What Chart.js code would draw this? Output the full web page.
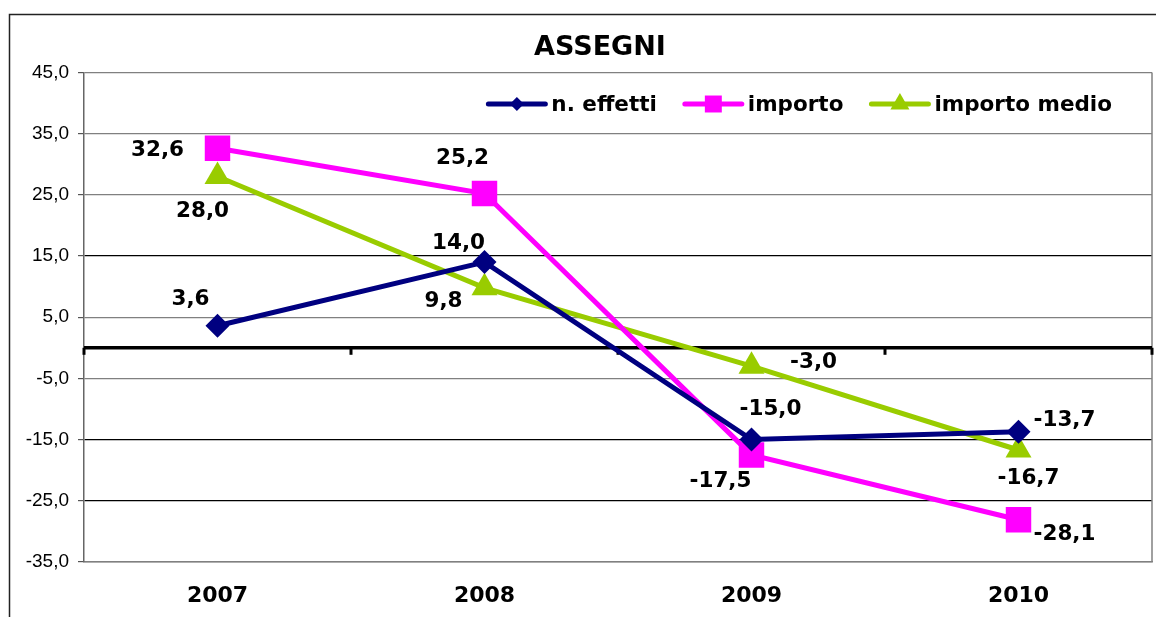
<!DOCTYPE html>
<html>
<head>
<meta charset="utf-8">
<script src="https://cdn.jsdelivr.net/npm/chart.js@4.4.0/dist/chart.umd.min.js"></script>
<style>
  html, body { margin: 0; padding: 0; background: #fff; }
  #wrap { width: 1156px; height: 617px; }
</style>
</head>
<body>
<div id="wrap"><canvas id="chart" width="1156" height="617"></canvas></div>
<script>
// data
const years = ["2007", "2008", "2009", "2010"];
const nEffetti = [3.6, 14.0, -15.0, -13.7];
const importo = [32.6, 25.2, -17.5, -28.1];
const importoMedio = [28.0, 9.8, -3.0, -16.7];
const yTicks = [45, 35, 25, 15, 5, -5, -15, -25, -35];

// where each value label sits relative to its point (dx, dy)
const labelOffsets = [
  [[-27, -26], [-26, -19], [19, -30], [46, -11]],
  [[-60, 2], [-22, -35], [-31, 27], [46, 15]],
  [[-15, 35], [-41, 14], [62, -4], [10, 28]]
];

const boldFont = "'DejaVu Sans', Verdana, sans-serif";

function fmt(v) {
  return v.toFixed(1).replace(".", ",");
}

// white page + outer frame
const framePlugin = {
  id: "frame",
  afterLayout(chart) {
    // title sits a bit right of the canvas centre
    if (chart.titleBlock) chart.titleBlock.left = 48;
  },
  beforeDraw(chart) {
    const ctx = chart.ctx;
    ctx.save();
    ctx.fillStyle = "#fff";
    ctx.fillRect(0, 0, chart.width, chart.height);
    ctx.strokeStyle = "#222";
    ctx.lineWidth = 1.5;
    ctx.strokeRect(9.5, 14.5, 2000, 2000);
    ctx.restore();
  },
  beforeDatasetsDraw(chart) {
    const ctx = chart.ctx;
    const a = chart.chartArea;
    const x = chart.scales.x;
    const y0 = chart.scales.y.getPixelForValue(0);
    ctx.save();
    // right border of the plot
    ctx.strokeStyle = "#808080";
    ctx.lineWidth = 1.5;
    ctx.beginPath();
    ctx.moveTo(a.right, a.top);
    ctx.lineTo(a.right, a.bottom);
    ctx.stroke();
    // zero line with category tick marks
    ctx.strokeStyle = "#000";
    ctx.lineWidth = 3.5;
    ctx.beginPath();
    ctx.moveTo(a.left, y0);
    ctx.lineTo(a.right, y0);
    ctx.stroke();
    const step = x.getPixelForValue(1) - x.getPixelForValue(0);
    ctx.lineWidth = 3;
    for (let i = 0; i <= years.length; i++) {
      const px = x.getPixelForValue(0) - step / 2 + i * step;
      ctx.beginPath();
      ctx.moveTo(px, y0);
      ctx.lineTo(px, y0 + 7);
      ctx.stroke();
    }
    ctx.restore();
  }
};

// value labels next to each point
const valueLabels = {
  id: "valueLabels",
  afterDatasetsDraw(chart) {
    const ctx = chart.ctx;
    ctx.save();
    ctx.font = "bold 21.5px " + boldFont;
    ctx.fillStyle = "#000";
    ctx.textAlign = "center";
    ctx.textBaseline = "middle";
    chart.data.datasets.forEach(function (ds, d) {
      const meta = chart.getDatasetMeta(d);
      meta.data.forEach(function (pt, i) {
        const off = labelOffsets[d][i];
        ctx.fillText(fmt(ds.data[i]), pt.x + off[0], pt.y + off[1]);
      });
    });
    ctx.restore();
  }
};

// legend drawn inside the plot, top right
const innerLegend = {
  id: "innerLegend",
  afterDraw(chart) {
    const ctx = chart.ctx;
    const a = chart.chartArea;
    const lineLen = 57;
    const gapText = 6;
    const gapItem = 28;
    const cy = 104;
    ctx.save();
    ctx.font = "bold 21.5px " + boldFont;
    ctx.textBaseline = "middle";
    ctx.textAlign = "left";
    const items = chart.data.datasets.map(function (ds) {
      return { ds: ds, w: ctx.measureText(ds.label).width };
    });
    let total = 0;
    items.forEach(function (it, i) {
      total += lineLen + gapText + it.w + (i < items.length - 1 ? gapItem : 0);
    });
    let x = a.right - 40 - total;
    items.forEach(function (it) {
      const ds = it.ds;
      ctx.strokeStyle = ds.borderColor;
      ctx.lineWidth = 5;
      ctx.lineCap = "round";
      ctx.beginPath();
      ctx.moveTo(x, cy);
      ctx.lineTo(x + lineLen, cy);
      ctx.stroke();
      ctx.fillStyle = ds.borderColor;
      Chart.helpers.drawPoint(ctx, {
        pointStyle: ds.pointStyle,
        radius: ds.legendRadius,
        rotation: 0,
        borderWidth: 0
      }, x + lineLen / 2, cy);
      ctx.fillStyle = "#000";
      ctx.fillText(ds.label, x + lineLen + gapText, cy + 1);
      x += lineLen + gapText + it.w + gapItem;
    });
    ctx.restore();
  }
};

const ctx = document.getElementById("chart").getContext("2d");
const chart = new Chart(ctx, {
  type: "line",
  data: {
    labels: years,
    datasets: [
      {
        label: "n. effetti",
        data: nEffetti,
        borderColor: "#000080",
        backgroundColor: "#000080",
        borderWidth: 5,
        pointStyle: "rectRot",
        pointRadius: 12,
        pointBorderWidth: 0,
        legendRadius: 7
      },
      {
        label: "importo",
        data: importo,
        borderColor: "#FF00FF",
        backgroundColor: "#FF00FF",
        borderWidth: 5,
        pointStyle: "rect",
        pointRadius: 18,
        pointBorderWidth: 0,
        legendRadius: 12
      },
      {
        label: "importo medio",
        data: importoMedio,
        borderColor: "#99CC00",
        backgroundColor: "#99CC00",
        borderWidth: 5,
        pointStyle: "triangle",
        pointRadius: 15,
        pointBorderWidth: 0,
        legendRadius: 11
      }
    ]
  },
  options: {
    responsive: false,
    animation: false,
    layout: { autoPadding: false, padding: { left: 0, right: 4, top: 0, bottom: 0 } },
    plugins: {
      legend: { display: false },
      tooltip: { enabled: false },
      title: {
        display: true,
        text: "ASSEGNI",
        color: "#000",
        font: { family: boldFont, size: 27, weight: "bold", lineHeight: 1.2 },
        padding: { top: 32, bottom: 8 }
      }
    },
    scales: {
      x: {
        offset: true,
        grid: { display: false, drawTicks: false },
        border: { display: true, color: "#808080", width: 1.5 },
        ticks: {
          color: "#000",
          padding: 21,
          font: { family: boldFont, size: 22, weight: "bold" }
        },
        afterFit(s) { s.height = 55; }
      },
      y: {
        min: -35,
        max: 45,
        afterBuildTicks(s) {
          s.ticks = yTicks.map(function (v) { return { value: v }; });
        },
        grid: {
          color(c) {
            const v = c.tick ? c.tick.value : 0;
            return (v === 15 || v === -15 || v === -25) ? "#000" : "#808080";
          },
          lineWidth: 1.2,
          tickLength: 6,
          tickColor: "#555"
        },
        border: { display: true, color: "#666", width: 1.5 },
        ticks: {
          color: "#000",
          padding: 9,
          font: { family: "'Liberation Sans', Arial, sans-serif", size: 19 },
          callback(v) { return fmt(v); }
        },
        afterFit(s) { s.width = 84; }
      }
    }
  },
  plugins: [framePlugin, valueLabels, innerLegend]
});
</script>
</body>
</html>
